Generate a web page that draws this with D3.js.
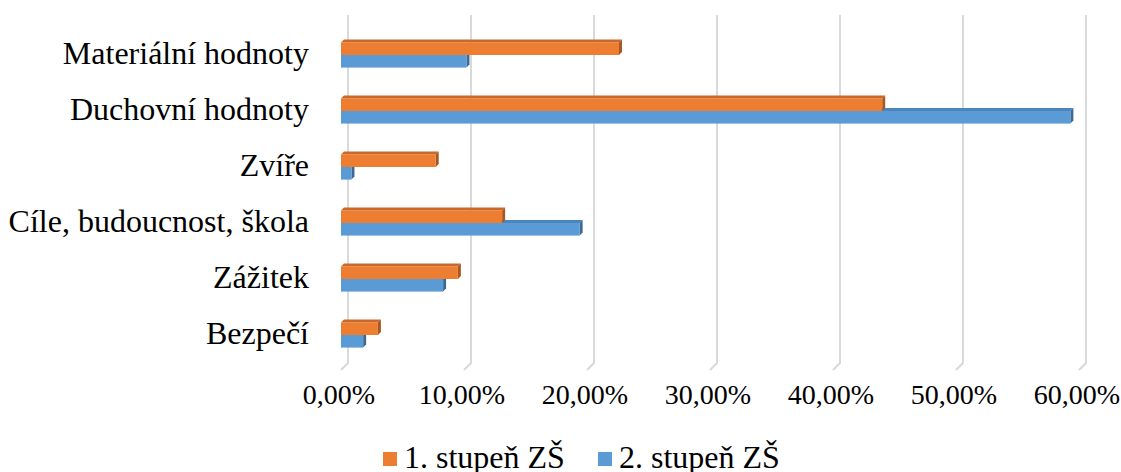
<!DOCTYPE html>
<html>
<head>
<meta charset="utf-8">
<script src="https://cdn.jsdelivr.net/npm/d3@7"></script>
<style>
  #chart text { font-family: "Times New Roman", "Liberation Serif", Tinos, serif !important; }
</style>
</head>
<body style="margin:0">
<svg id="chart" width="1121" height="472"></svg>
<script>
// Categories, top to bottom
const categories = ["Materiální hodnoty", "Duchovní hodnoty", "Zvíře", "Cíle, budoucnost, škola", "Zážitek", "Bezpečí"];
// Shares in percent
const stupen1 = [22.6, 44.0, 7.7, 13.1, 9.5, 3.0];
const stupen2 = [10.2, 59.3, 0.85, 19.4, 8.3, 1.8];
const seriesNames = ["1. stupeň ZŠ", "2. stupeň ZŠ"];
const tickValues = [0, 10, 20, 30, 40, 50, 60];

const colors = {
  front: ["#ED7D31", "#5B9BD5"],
  top:   ["#C9682A", "#4A85BC"],
  side:  ["#A85720", "#3C6994"]
};

const svg = d3.select("#chart");

// Oblique depth: back wall offset and bar depth
const wallDx = 7, wallDy = -7;
const barDx = 3, barDy = -3;

const x = d3.scaleLinear().domain([0, 60]).range([341, 341 + 6 * 123]);
const y = d3.scaleBand().domain(categories).range([27, 363]).paddingInner(0.55).paddingOuter(0.275);
const ySub = d3.scaleBand().domain([0, 1]).range([0, y.bandwidth()]);

const floorFront = 370;

// Gridlines on the back wall, with floor segments coming forward
const grid = svg.append("g");
tickValues.forEach(v => {
  const xb = x(v) + wallDx;
  grid.append("path")
    .attr("d", `M${xb},15 L${xb},${floorFront + wallDy} L${x(v)},${floorFront}`)
    .attr("fill", "none")
    .attr("stroke", "#D9D9D9")
    .attr("stroke-width", 2);
});

// Bars: draw lower series first so the upper one covers its top face
const bars = svg.append("g");
[1, 0].forEach(si => {
  const vals = si === 0 ? stupen1 : stupen2;
  categories.forEach((c, i) => {
    const x0 = x(0), x1 = x(vals[i]);
    const yt = y(c) + ySub(si), h = ySub.bandwidth();
    // top face
    bars.append("path")
      .attr("d", `M${x0},${yt} L${x0 + barDx},${yt + barDy} L${x1 + barDx},${yt + barDy} L${x1},${yt} Z`)
      .attr("fill", colors.top[si]);
    // side face at the value end
    bars.append("path")
      .attr("d", `M${x1},${yt} L${x1 + barDx},${yt + barDy} L${x1 + barDx},${yt + h + barDy} L${x1},${yt + h} Z`)
      .attr("fill", colors.side[si]);
    // front face
    bars.append("rect")
      .attr("x", x0).attr("y", yt)
      .attr("width", Math.max(0, x1 - x0)).attr("height", h)
      .attr("fill", colors.front[si]);
  });
});

// Serif text helper
const serif = (sel, size) => sel
  .style("font", `${size}px "Times New Roman", "Liberation Serif", Tinos, serif`)
  .attr("fill", "#000");

// Category labels
svg.append("g").selectAll("text")
  .data(categories)
  .join("text")
  .attr("x", 309)
  .attr("y", d => y(d) + y.bandwidth() / 2 + 9)
  .attr("text-anchor", "end")
  .call(serif, 32)
  .text(d => d);

// Value axis labels
const fmt = v => d3.format(".2f")(v).replace(".", ",") + "%";
svg.append("g").selectAll("text")
  .data(tickValues)
  .join("text")
  .attr("x", d => x(d) - 2)
  .attr("y", 404)
  .attr("text-anchor", "middle")
  .call(serif, 28)
  .text(fmt);

// Legend
const legend = svg.append("g");
const legendX = [383, 598];
seriesNames.forEach((name, i) => {
  legend.append("rect")
    .attr("x", legendX[i]).attr("y", 452)
    .attr("width", 14).attr("height", 14)
    .attr("fill", colors.front[i]);
  legend.append("text")
    .attr("x", legendX[i] + 21).attr("y", 468)
    .call(serif, 32)
    .text(name);
});
</script>
</body>
</html>
